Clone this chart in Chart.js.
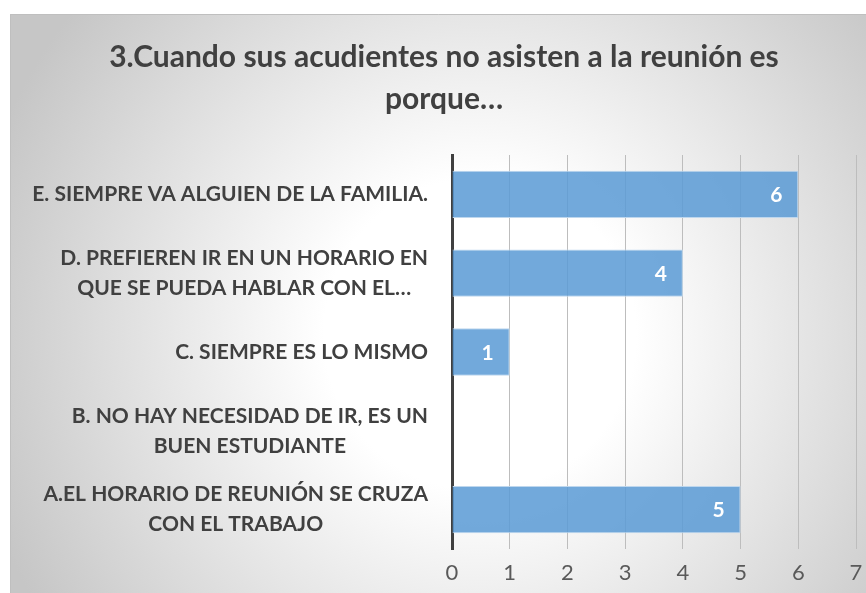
<!DOCTYPE html>
<html>
<head>
<meta charset="utf-8">
<script src="https://cdn.jsdelivr.net/npm/chart.js@4.4.1/dist/chart.umd.min.js"></script>
<style>
  html, body { margin: 0; padding: 0; background: #ffffff; }
  #wrap { position: absolute; left: 10px; top: 14px; width: 856px; height: 579px; }
</style>
</head>
<body>
<div id="wrap"><canvas id="c" width="856" height="579"></canvas></div>
<script>
const titleLines = ['3.Cuando sus acudientes no asisten a la reunión es', 'porque…'];
const categories = [
  'E. SIEMPRE VA ALGUIEN DE LA FAMILIA.',
  ['D. PREFIEREN IR EN UN HORARIO EN', 'QUE SE PUEDA HABLAR CON EL…'],
  'C. SIEMPRE ES LO MISMO',
  ['B. NO HAY NECESIDAD DE IR, ES UN', 'BUEN ESTUDIANTE'],
  ['A.EL HORARIO DE REUNIÓN SE CRUZA', 'CON EL TRABAJO']
];
const values = [6, 4, 1, 0, 5];
const xTicks = [0, 1, 2, 3, 4, 5, 6, 7];

const FONT = "Lato, 'Open Sans', sans-serif";

const bgPlugin = {
  id: 'bg',
  beforeDraw(chart) {
    const ctx = chart.ctx, w = chart.width, h = chart.height;
    ctx.save();
    const g = ctx.createRadialGradient(470, 320, 0, 470, 320, 520);
    g.addColorStop(0, '#ffffff');
    g.addColorStop(0.3, '#ffffff');
    g.addColorStop(1, '#c6c6c6');
    ctx.fillStyle = g;
    ctx.fillRect(0, 0, w, h);
    ctx.strokeStyle = '#bfbfbf';
    ctx.lineWidth = 1;
    ctx.beginPath();
    ctx.moveTo(0.5, h);
    ctx.lineTo(0.5, 0.5);
    ctx.lineTo(w, 0.5);
    ctx.stroke();
    ctx.restore();
  }
};

// category labels: block right-aligned against the axis, lines centred within the block
const catLabelPlugin = {
  id: 'catLabels',
  afterDraw(chart) {
    const ctx = chart.ctx;
    const ys = chart.scales.y;
    const right = chart.chartArea.left - 24;
    const lh = 30;
    ctx.save();
    ctx.font = "bold 21px " + FONT;
    ctx.fillStyle = '#404040';
    ctx.textAlign = 'center';
    ctx.textBaseline = 'middle';
    chart.data.labels.forEach((lab, i) => {
      const lines = Array.isArray(lab) ? lab : [lab];
      const widest = Math.max(...lines.map(l => ctx.measureText(l).width));
      const cx = right - widest / 2;
      const cy = ys.getPixelForTick(i);
      const y0 = cy - (lines.length - 1) * lh / 2;
      lines.forEach((l, k) => ctx.fillText(l, cx, y0 + k * lh));
    });
    ctx.restore();
  }
};

const labelPlugin = {
  id: 'barLabels',
  afterDatasetsDraw(chart) {
    const ctx = chart.ctx;
    const meta = chart.getDatasetMeta(0);
    ctx.save();
    ctx.font = "bold 21px " + FONT;
    ctx.fillStyle = '#ffffff';
    ctx.textAlign = 'center';
    ctx.textBaseline = 'middle';
    meta.data.forEach((bar, i) => {
      const v = chart.data.datasets[0].data[i];
      if (!v) return;
      ctx.fillText(String(v), bar.x - 22, bar.y + 1);
    });
    ctx.restore();
  }
};

new Chart(document.getElementById('c'), {
  type: 'bar',
  data: {
    labels: categories,
    datasets: [{
      data: values,
      backgroundColor: 'rgba(91,155,213,0.86)',
      borderColor: 'rgba(190,215,238,1)',
      borderWidth: 1,
      barPercentage: 0.6,
      categoryPercentage: 1.0
    }]
  },
  options: {
    indexAxis: 'y',
    responsive: false,
    animation: false,
    layout: { padding: { left: 12, right: 0, top: 0, bottom: 0 } },
    plugins: {
      legend: { display: false },
      tooltip: { enabled: false },
      title: {
        display: true,
        text: titleLines,
        color: '#404040',
        font: { family: FONT, size: 30, weight: 'bold', lineHeight: 1.4 },
        padding: { top: 22, bottom: 35 }
      }
    },
    scales: {
      x: {
        min: 0, max: 7,
        afterBuildTicks(scale) { scale.ticks = xTicks.map(v => ({ value: v })); },
        afterFit(scale) { scale.paddingLeft = 0; scale.paddingRight = 10; scale.height = 44; },
        grid: { color: '#bdbdbd', lineWidth: 1, drawTicks: false },
        border: { display: false },
        ticks: { color: '#595959', font: { family: FONT, size: 22 }, padding: 11 }
      },
      y: {
        afterFit(scale) { scale.width = 430; scale.paddingTop = 0; scale.paddingBottom = 0; },
        grid: { display: false, drawTicks: false },
        border: { display: true, color: '#404040', width: 3 },
        ticks: { display: false }
      }
    }
  },
  plugins: [bgPlugin, catLabelPlugin, labelPlugin]
});
</script>
</body>
</html>
